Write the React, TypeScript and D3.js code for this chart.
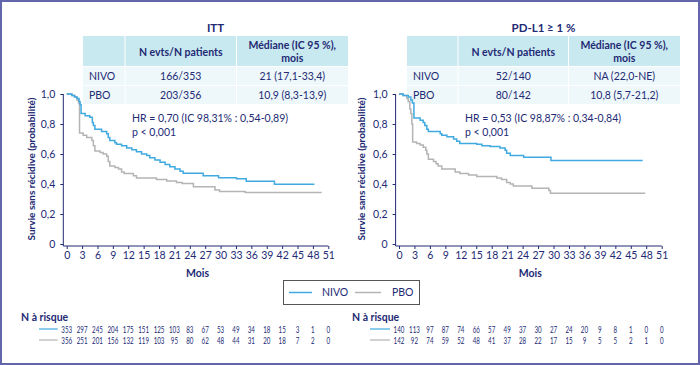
import React, { useEffect, useRef } from 'react';
import * as d3 from 'd3';

// x axis (months) and y axis (probability) ticks
const monthTicks = d3.range(0, 52, 3);
const survTicks = [0, 0.2, 0.4, 0.6, 0.8, 1.0];

// ITT - NIVO
const ittNivoTimes = [0, 1.0, 1.5, 2.0, 2.4, 2.6, 2.8, 3.6, 4.5, 5.0, 5.2, 5.5, 6.8, 7.8, 8.1, 8.4, 9.4, 9.7, 10.7, 11.7, 12.7, 13.6, 14.6, 15.6, 16.2, 17.2, 18.2, 19.2, 20.1, 21.1, 22.1, 22.7, 26.6, 29.6, 33.1, 35.0, 40.5, 48.3];
const ittNivoSurv = [1.0, 0.99, 0.98, 0.97, 0.95, 0.93, 0.87, 0.855, 0.845, 0.81, 0.79, 0.765, 0.75, 0.735, 0.71, 0.69, 0.675, 0.665, 0.655, 0.64, 0.628, 0.615, 0.6, 0.59, 0.575, 0.56, 0.545, 0.53, 0.515, 0.5, 0.485, 0.471, 0.455, 0.442, 0.435, 0.418, 0.398, 0.398];
// ITT - PBO
const ittPboTimes = [0, 1.0, 1.6, 2.0, 2.3, 2.5, 3.2, 3.9, 4.9, 5.2, 5.5, 6.5, 7.1, 7.8, 8.1, 8.4, 9.4, 10.1, 10.7, 11.2, 13.0, 13.6, 17.5, 19.5, 21.4, 22.5, 24.7, 28.9, 29.8, 34.8, 49.7];
const ittPboSurv = [1.0, 0.99, 0.98, 0.96, 0.94, 0.74, 0.725, 0.71, 0.69, 0.655, 0.62, 0.61, 0.6, 0.585, 0.55, 0.52, 0.51, 0.5, 0.48, 0.47, 0.455, 0.44, 0.43, 0.42, 0.41, 0.404, 0.382, 0.36, 0.35, 0.344, 0.344];

// PD-L1 >= 1 % - NIVO
const pdNivoTimes = [0, 0.8, 1.8, 2.3, 2.6, 2.9, 4.1, 4.7, 5.0, 5.4, 5.7, 8.0, 8.3, 9.3, 10.6, 11.2, 11.8, 15.1, 16.1, 17.7, 19.6, 20.6, 20.9, 21.6, 24.2, 29.5, 47.3];
const pdNivoSurv = [1.0, 0.99, 0.98, 0.96, 0.94, 0.84, 0.825, 0.81, 0.79, 0.765, 0.75, 0.735, 0.725, 0.715, 0.7, 0.685, 0.67, 0.665, 0.655, 0.65, 0.64, 0.625, 0.605, 0.59, 0.578, 0.556, 0.556];
// PD-L1 >= 1 % - PBO
const pdPboTimes = [0, 0.8, 1.5, 1.8, 2.1, 2.3, 2.5, 2.65, 3.4, 4.1, 4.7, 5.2, 5.4, 5.7, 6.7, 7.2, 7.6, 8.3, 10.9, 11.8, 13.5, 15.1, 19.0, 19.9, 20.9, 21.6, 22.2, 25.8, 29.1, 29.4, 47.8];
const pdPboSurv = [1.0, 0.99, 0.97, 0.95, 0.9, 0.87, 0.8, 0.68, 0.67, 0.66, 0.645, 0.625, 0.6, 0.565, 0.55, 0.535, 0.52, 0.5, 0.48, 0.47, 0.46, 0.45, 0.44, 0.43, 0.41, 0.4, 0.387, 0.371, 0.356, 0.338, 0.338];

// patients at risk
const ittRiskNivo = [353, 297, 245, 204, 175, 151, 125, 103, 83, 67, 53, 49, 34, 18, 15, 3, 1, 0];
const ittRiskPbo = [356, 251, 201, 156, 132, 119, 103, 95, 80, 62, 48, 44, 31, 20, 18, 7, 2, 0];
const pdRiskNivo = [140, 113, 97, 87, 74, 66, 57, 49, 37, 30, 27, 24, 20, 9, 8, 1, 0, 0];
const pdRiskPbo = [142, 92, 74, 59, 52, 48, 41, 37, 28, 22, 17, 15, 9, 5, 5, 2, 1, 0];

// summary tables
const groups = ['NIVO', 'PBO'];
const ittEvents = ['166/353', '203/356'];
const ittMedians = ['21 (17,1-33,4)', '10,9 (8,3-13,9)'];
const pdEvents = ['52/140', '80/142'];
const pdMedians = ['NA (22,0-NE)', '10,8 (5,7-21,2)'];

const NAVY = '#232a74';
const BLUE = '#3fa9e0';
const GRAY = '#b4b4b4';
const FONT = 'Lato, "Noto Sans", sans-serif';

interface PanelProps {
  x0: number;
  x1: number;
  title: string;
  tableX: [number, number, number, number];
  events: string[];
  medians: string[];
  hr: string;
  hrX: number;
  nivo: [number[], number[]];
  pbo: [number[], number[]];
  riskNivo: number[];
  riskPbo: number[];
  riskX: number;
  ylabX: number;
}

const Panel: React.FC<PanelProps> = (p) => {
  const xAxisRef = useRef<SVGGElement>(null);
  const yAxisRef = useRef<SVGGElement>(null);

  const x = d3.scaleLinear().domain([0, 51]).range([p.x0, p.x1]);
  const y = d3.scaleLinear().domain([0, 1]).range([244, 94]);
  const axisY = 246;
  const axisX = p.x0 - 3.4;

  useEffect(() => {
    const gx = d3.select(xAxisRef.current!);
    gx.selectAll('*').remove();
    gx.call(d3.axisBottom(x).tickValues(monthTicks).tickSize(3).tickPadding(3).tickFormat(d3.format('d')) as any);
    gx.select('.domain').remove();
    gx.selectAll('line').attr('stroke', NAVY);
    gx.selectAll('text').attr('fill', NAVY).style('font-size', '10.5px').style('font-family', FONT);

    const gy = d3.select(yAxisRef.current!);
    gy.selectAll('*').remove();
    gy.call(d3.axisLeft(y).tickValues(survTicks).tickSize(3).tickPadding(5)
      .tickFormat((d: any) => (d === 0 ? '0' : d.toFixed(1).replace('.', ','))) as any);
    gy.select('.domain').remove();
    gy.selectAll('line').attr('stroke', NAVY);
    gy.selectAll('text').attr('fill', NAVY).style('font-size', '10.5px').style('font-family', FONT);
  }, [p.x0, p.x1]);

  const line = d3.line<[number, number]>()
    .x(d => x(d[0]))
    .y(d => y(d[1]))
    .curve(d3.curveStepAfter);
  const pts = (s: [number[], number[]]) => s[0].map((t, i) => [t, s[1][i]] as [number, number]);

  const [tx0, tx1, tx2, tx3] = p.tableX;
  const cx1 = (tx1 + tx2) / 2;
  const cx2 = (tx2 + tx3) / 2;
  const rowTop = [67, 86];

  // narrow digits, like the condensed face of the original
  const riskText = (v: number, i: number, yy: number, k: string) => {
    const s = String(v);
    return (
      <text key={k + i} x={x(i * 3)} y={yy} textAnchor="middle" fontSize={9.5}
        textLength={s.length * 3.6} lengthAdjust="spacingAndGlyphs">{s}</text>
    );
  };

  return (
    <g fontFamily={FONT} fill={NAVY}>
      <text x={(tx0 + tx3) / 2} y={32} textAnchor="middle" fontWeight="bold" fontSize={11.5}>{p.title}</text>
      <rect x={tx0} y={36} width={tx3 - tx0} height={30} fill="#c9e9f0" />
      {rowTop.map((r, i) => (
        <rect key={i} x={tx0} y={r} width={tx3 - tx0} height={18} fill="#eef8fa" />
      ))}
      <line x1={tx1} x2={tx1} y1={36} y2={104} stroke="#fff" />
      <line x1={tx2} x2={tx2} y1={36} y2={104} stroke="#fff" />
      <text x={cx1} y={55.5} textAnchor="middle" fontWeight="bold" fontSize={10.5}>N evts/N patients</text>
      <text x={cx2} y={48.5} textAnchor="middle" fontWeight="bold" fontSize={10.5}>Médiane (IC 95 %),</text>
      <text x={cx2} y={61.5} textAnchor="middle" fontWeight="bold" fontSize={10.5}>mois</text>
      {groups.map((g, i) => (
        <g key={g} fontSize={10.5}>
          <text x={tx0 + 6} y={rowTop[i] + 12.5}>{g}</text>
          <text x={cx1} y={rowTop[i] + 12.5} textAnchor="middle">{p.events[i]}</text>
          <text x={cx2} y={rowTop[i] + 12.5} textAnchor="middle">{p.medians[i]}</text>
        </g>
      ))}

      <text x={p.hrX} y={121.5} fontSize={10.5}>{p.hr}</text>
      <text x={p.hrX} y={135.5} fontSize={10.5}>p &lt; 0,001</text>

      <line x1={axisX} x2={axisX} y1={y(1)} y2={axisY} stroke={NAVY} />
      <line x1={axisX} x2={x(51)} y1={axisY} y2={axisY} stroke={NAVY} />
      <g ref={xAxisRef} transform={`translate(0,${axisY})`} />
      <g ref={yAxisRef} transform={`translate(${axisX},0)`} />
      <text x={(p.x0 + p.x1) / 2} y={277} textAnchor="middle" fontWeight="bold" fontSize={10.5}>Mois</text>
      <text transform={`translate(${p.ylabX},${(y(0) + y(1)) / 2}) rotate(-90)`} textAnchor="middle"
        dominantBaseline="central" fontWeight="bold" fontSize={10}>Survie sans récidive (probabilité)</text>

      <path d={line(pts(p.pbo)) as string} fill="none" stroke={GRAY} strokeWidth={1.5} />
      <path d={line(pts(p.nivo)) as string} fill="none" stroke={BLUE} strokeWidth={1.5} />

      <text x={p.riskX} y={320.5} fontWeight="bold" fontSize={10.5}>N à risque</text>
      <line x1={p.riskX + 18} x2={p.x0 - 9} y1={329} y2={329} stroke={BLUE} strokeWidth={1.2} />
      <line x1={p.riskX + 18} x2={p.x0 - 9} y1={340} y2={340} stroke={GRAY} strokeWidth={1.2} />
      {p.riskNivo.map((v, i) => riskText(v, i, 332.5, 'n'))}
      {p.riskPbo.map((v, i) => riskText(v, i, 343.5, 'p'))}
    </g>
  );
};

export default function App() {
  return (
    <>
      <style>{'body{margin:0}'}</style>
      <svg width={700} height={365} style={{ display: 'block', background: '#fff' }}>
        <rect x={1} y={1} width={698} height={363} fill="#fff" stroke="#6466ab" strokeWidth={2} />
        <Panel x0={66.7} x1={328.3} title="ITT" tableX={[83, 125, 236.5, 348]}
          events={ittEvents} medians={ittMedians}
          hr="HR = 0,70 (IC 98,31% : 0,54-0,89)" hrX={132}
          nivo={[ittNivoTimes, ittNivoSurv]} pbo={[ittPboTimes, ittPboSurv]}
          riskNivo={ittRiskNivo} riskPbo={ittRiskPbo} riskX={21} ylabX={31} />
        <Panel x0={399} x1={661.7} title="PD-L1 ≥ 1 %" tableX={[407, 458, 568.5, 680]}
          events={pdEvents} medians={pdMedians}
          hr="HR = 0,53 (IC 98,87% : 0,34-0,84)" hrX={465}
          nivo={[pdNivoTimes, pdNivoSurv]} pbo={[pdPboTimes, pdPboSurv]}
          riskNivo={pdRiskNivo} riskPbo={pdRiskPbo} riskX={352} ylabX={361} />

        <g fontFamily={FONT} fill={NAVY} fontSize={10.5}>
          <rect x={283.5} y={280.5} width={136} height={24} fill="#fff" stroke="#555" />
          <line x1={289} x2={312} y1={292.5} y2={292.5} stroke={BLUE} strokeWidth={1.5} />
          <text x={322} y={296}>NIVO</text>
          <line x1={355} x2={381} y1={292.5} y2={292.5} stroke={GRAY} strokeWidth={1.5} />
          <text x={392} y={296}>PBO</text>
        </g>
      </svg>
    </>
  );
}
